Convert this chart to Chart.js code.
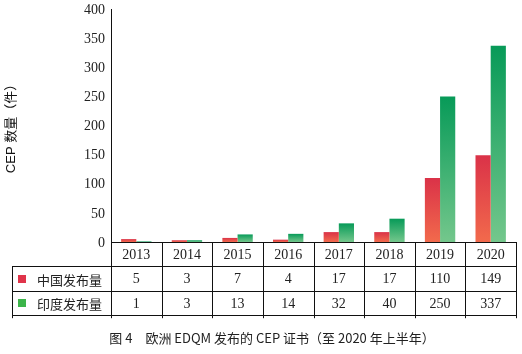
<!DOCTYPE html>
<html><head><meta charset="utf-8">
<script src="https://cdn.jsdelivr.net/npm/chart.js@4"></script>
<style>html,body{margin:0;padding:0;background:#fff;}#wrap{width:522px;height:354px;}</style>
</head><body><div id="wrap"><canvas id="c" width="522" height="354"></canvas></div>
<script>
const categories = ['2013','2014','2015','2016','2017','2018','2019','2020'];
const chinaValues = [5,3,7,4,17,17,110,149];
const indiaValues = [1,3,13,14,32,40,250,337];
const seriesNames = ['中国发布量','印度发布量'];
const yTicks = [0,50,100,150,200,250,300,350,400];
const yTitle = 'CEP 数量（件）';
const caption = '图 4　欧洲 EDQM 发布的 CEP 证书（至 2020 年上半年）';

const SERIF = "'Liberation Serif', 'Noto Sans CJK SC', serif";
const CJK = "'Noto Sans CJK SC', 'Liberation Serif', serif";
Chart.defaults.font.family = SERIF;
Chart.defaults.color = '#222';

function grad(top, bottom){
  return function(ctx){
    const chart = ctx.chart;
    if(!chart.chartArea || ctx.raw === undefined) return top;
    const y = chart.scales.y;
    const t = y.getPixelForValue(ctx.raw);
    let b = y.getPixelForValue(0);
    if (b - t < 1) b = t + 1;
    const g = chart.ctx.createLinearGradient(0, t, 0, b);
    g.addColorStop(0, top);
    g.addColorStop(1, bottom);
    return g;
  };
}

const tablePlugin = {
  id: 'tablePlugin',
  afterDraw(chart){
    const c = chart.ctx;
    const x = chart.scales.x;
    const y = chart.scales.y;
    const base = chart.chartArea.bottom;
    const left = chart.chartArea.left;
    const right = chart.chartArea.right;
    const rowH = 24.4;
    const tableLeft = 12;
    c.save();
    // y tick labels (serif)
    c.fillStyle = '#222';
    c.textAlign = 'right';
    c.textBaseline = 'middle';
    c.font = '14px ' + SERIF;
    y.ticks.forEach(t => {
      c.fillText(String(t.value), left - 6, y.getPixelForValue(t.value) + 1);
    });

    c.strokeStyle = '#111';
    c.lineWidth = 1;
    c.beginPath();
    for (let r = 1; r <= 3; r++){
      const yy = Math.round(base + r*rowH) + 0.5;
      c.moveTo(tableLeft, yy); c.lineTo(right, yy);
    }
    const step = (right - left) / categories.length;
    for (let i = 0; i <= categories.length; i++){
      const xx = Math.round(left + i*step) + 0.5;
      c.moveTo(xx, base); c.lineTo(xx, base + 3*rowH + 3);
    }
    const lx = tableLeft + 0.5;
    c.moveTo(lx, base + rowH); c.lineTo(lx, base + 3*rowH + 3);
    c.stroke();

    c.textAlign = 'center';
    const rows = [categories, chinaValues, indiaValues];
    rows.forEach((row, r) => {
      row.forEach((v, i) => {
        c.fillText(String(v), x.getPixelForValue(i), base + r*rowH + rowH/2 + 1);
      });
    });
    const keys = ['#e0344a', '#3cb54a'];
    c.textAlign = 'left';
    c.font = '13px ' + CJK;
    seriesNames.forEach((n, r) => {
      const cy = base + (r+1)*rowH + rowH/2;
      c.fillStyle = keys[r];
      c.fillRect(18, Math.round(cy - 4), 8, 8);
      c.fillStyle = '#222';
      c.fillText(n, 37, cy + 1);
    });
    c.textAlign = 'center';
    c.font = '13px ' + CJK;
    c.fillStyle = '#222';
    c.fillText(caption, 272, 338);
    c.restore();
  }
};

new Chart(document.getElementById('c'), {
  type: 'bar',
  data: {
    labels: categories,
    datasets: [
      { label: seriesNames[0], data: chinaValues, backgroundColor: grad('#da3248', '#f26a4c'), categoryPercentage: 0.6, barPercentage: 1.0 },
      { label: seriesNames[1], data: indiaValues, backgroundColor: grad('#079a58', '#74c78c'), categoryPercentage: 0.6, barPercentage: 1.0 }
    ]
  },
  options: {
    responsive: false,
    animation: false,
    devicePixelRatio: 1,
    layout: { padding: { left: 0, right: 6, top: 9, bottom: 0 } },
    plugins: { legend: { display: false }, tooltip: { enabled: false }, title: { display: false } },
    scales: {
      x: {
        grid: { display: false },
        border: { display: true, color: '#111', width: 1 },
        ticks: { display: false },
        afterFit(s){ s.height = 112; }
      },
      y: {
        min: 0, max: 400,
        afterBuildTicks(s){ s.ticks = yTicks.map(v => ({ value: v })); },
        grid: { display: false },
        border: { display: true, color: '#111', width: 1 },
        ticks: { display: false },
        title: { display: true, text: yTitle, font: { family: "'Liberation Sans', 'Noto Sans CJK SC', sans-serif", size: 13, weight: 'normal' }, color: '#111', padding: { top: 4, bottom: 0 } },
        afterFit(s){ s.width = 111; s.paddingTop = 0; s.paddingBottom = 0; }
      }
    }
  },
  plugins: [tablePlugin]
});
</script>
</body></html>
